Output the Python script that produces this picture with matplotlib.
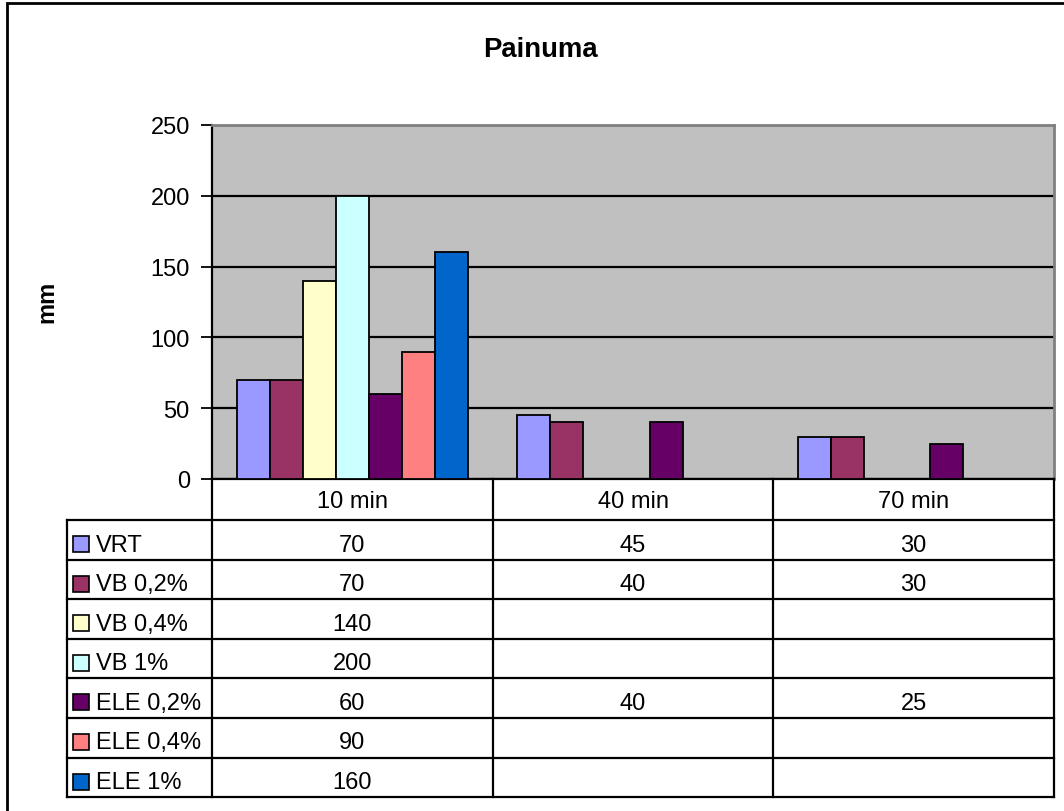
import numpy as np
import matplotlib
matplotlib.use("Agg")
import matplotlib.pyplot as plt
from matplotlib.lines import Line2D
from matplotlib.patches import Rectangle
from matplotlib.transforms import blended_transform_factory

plt.rcParams['font.family'] = ['Liberation Sans', 'DejaVu Sans']

# ---- data ----
title = "Painuma"
y_label = "mm"
categories = ["10 min", "40 min", "70 min"]
series_names = ["VRT", "VB 0,2%", "VB 0,4%", "VB 1%", "ELE 0,2%", "ELE 0,4%", "ELE 1%"]
vrt = [70, 45, 30]
vb_02 = [70, 40, 30]
vb_04 = [140, None, None]
vb_1 = [200, None, None]
ele_02 = [60, 40, 25]
ele_04 = [90, None, None]
ele_1 = [160, None, None]
series_values = [vrt, vb_02, vb_04, vb_1, ele_02, ele_04, ele_1]
colors = ["#9999FF", "#993366", "#FFFFCC", "#CCFFFF", "#660066", "#FF8080", "#0066CC"]
y_ticks = [0, 50, 100, 150, 200, 250]

W, H = 1064, 812
fig = plt.figure(figsize=(W / 100, H / 100), dpi=100)
fig.patch.set_facecolor("white")


def fx(x):
    return x / W


def fy(y):
    return 1 - y / H


FS = 17

# plot area
left, right, top, bottom = 212, 1054, 126, 480
ax = fig.add_axes([fx(left), fy(bottom), fx(right) - fx(left), fy(top) - fy(bottom)])
ax.set_facecolor("#C0C0C0")
ax.set_xlim(-0.5, len(categories) - 0.5)
ax.set_ylim(0, 250)
ax.set_axisbelow(True)

n = len(series_names)
bw = 1 / (n + 1.5)
x = np.arange(len(categories))
for i, (vals, col) in enumerate(zip(series_values, colors)):
    v = np.array([np.nan if a is None else a for a in vals], dtype=float)
    ax.bar(x + (i - (n - 1) / 2) * bw, v, width=bw, color=col,
           edgecolor="black", linewidth=1.3, zorder=3)

ax.set_yticks(y_ticks)
ax.set_yticklabels([str(t) for t in y_ticks], fontsize=FS)
ax.set_xticks([])
ax.tick_params(axis="y", length=8, width=1.3, pad=8, color="black")
ax.yaxis.grid(True, color="black", linewidth=1.6)
for s in ("top", "right"):
    ax.spines[s].set_color("#808080")
    ax.spines[s].set_linewidth(2)
ax.spines["left"].set_color("black")
ax.spines["left"].set_linewidth(1.6)
ax.spines["bottom"].set_color("black")
ax.spines["bottom"].set_linewidth(1.6)

# title and axis label
fig.text(fx(540), fy(57), title, ha="center", va="baseline",
         fontsize=19.8, fontweight="bold")
fig.text(fx(47), fy(302), y_label, ha="center", va="center",
         rotation=90, fontsize=FS, fontweight="bold")

# ---- data table under the axis ----
tb = blended_transform_factory(ax.transData, fig.transFigure)
table_left = 67
header_top, header_bot = 480, 521
row_h = 39.6
rows_bottom = header_bot + n * row_h
lw = 1.6

# vertical separators of the category columns
for b in np.arange(len(categories) + 1) - 0.5:
    fig.add_artist(Line2D([b, b], [fy(header_top), fy(rows_bottom)],
                          transform=tb, color="black", linewidth=lw))
# left label column border
fig.add_artist(Line2D([fx(table_left)] * 2, [fy(header_bot), fy(rows_bottom)],
                      transform=fig.transFigure, color="black", linewidth=lw))
# horizontal lines
for k in range(n + 1):
    yy = fy(header_bot + k * row_h)
    fig.add_artist(Line2D([fx(table_left), fx(right)], [yy, yy],
                          transform=fig.transFigure, color="black", linewidth=lw))

# header labels
for j, c in enumerate(categories):
    fig.text(j, fy(header_top + 28), c, transform=tb, ha="center",
             va="baseline", fontsize=FS)

# rows: legend key, name, values
for i, (name, vals, col) in enumerate(zip(series_names, series_values, colors)):
    rtop = header_bot + i * row_h
    fig.add_artist(Rectangle((fx(73), fy(rtop + 32)), fx(16), 16 / H,
                             transform=fig.transFigure, facecolor=col,
                             edgecolor="black", linewidth=1.2))
    fig.text(fx(96), fy(rtop + 30.5), name, ha="left", va="baseline", fontsize=FS)
    for j, v in enumerate(vals):
        if v is not None:
            fig.text(j, fy(rtop + 30.5), str(v), transform=tb, ha="center",
                     va="baseline", fontsize=FS)

# outer chart border
fig.add_artist(Rectangle((fx(7), fy(830)), fx(1080 - 7), (830 - 4) / H,
                         transform=fig.transFigure, facecolor="none",
                         edgecolor="black", linewidth=2, clip_on=False))

fig.savefig("out.png", dpi=100)
